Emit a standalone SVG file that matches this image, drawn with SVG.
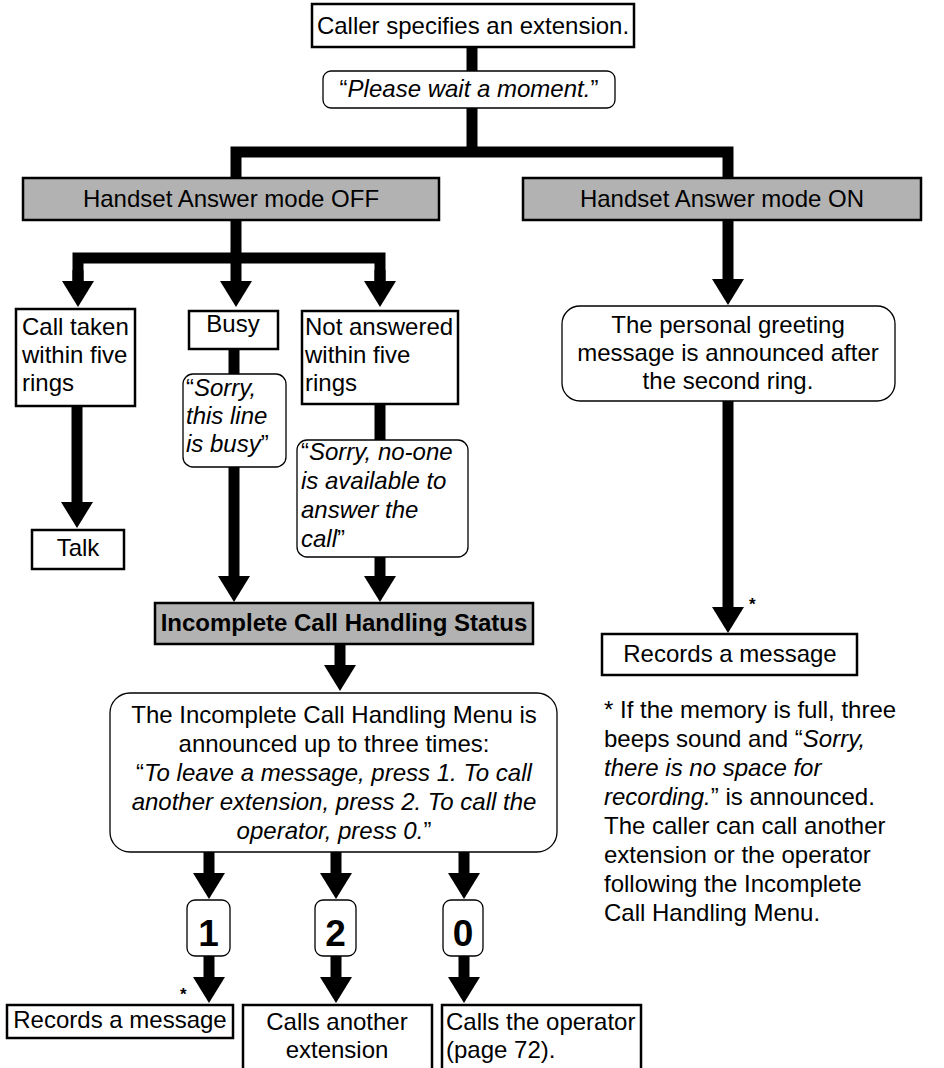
<svg xmlns="http://www.w3.org/2000/svg" width="944" height="1068" viewBox="0 0 944 1068">
<style>
text{font-family:"Liberation Sans",Arial,sans-serif;font-size:24px;fill:#000}
.c{text-anchor:middle}
.i{font-style:italic}
.b{font-weight:bold}
.box{fill:#fff;stroke:#000;stroke-width:2.5}
.gray{fill:#b2b2b2;stroke:#000;stroke-width:2.5}
.rnd{fill:#fff;stroke:#000;stroke-width:1.3}
.ln{fill:none;stroke:#000;stroke-width:11;stroke-linejoin:miter}
.ar{fill:none;stroke:#000;stroke-width:11;marker-end:url(#ah)}
.dig{font-size:37px;font-weight:bold}
.ast{font-size:17px;font-weight:bold}
</style>
<defs>
<marker id="ah" markerUnits="userSpaceOnUse" viewBox="0 0 27 32" markerWidth="27" markerHeight="32" refX="1" refY="16" orient="auto" overflow="visible">
<path d="M0,0 L26,16 L0,32 Z" fill="#000"/>
</marker>
</defs>
<g id="connectors">
<path class="ln" d="M472,47 V71"/>
<path class="ln" d="M472,108 V152"/>
<path class="ln" d="M236,178 V152 H728 V178"/>
<path class="ln" d="M78,283 V258 H380 V283"/>
<path class="ar" d="M236,220 V282"/>
<path class="ar" d="M78,270 V282"/>
<path class="ar" d="M380,270 V282"/>
<path class="ln" d="M234,349 V374"/>
<path class="ar" d="M234,467 V577"/>
<path class="ln" d="M380,404 V440"/>
<path class="ar" d="M380,557 V577"/>
<path class="ar" d="M77,406 V503"/>
<path class="ar" d="M340,644 V666"/>
<path class="ar" d="M209,852 V874"/>
<path class="ar" d="M336,852 V874"/>
<path class="ar" d="M464,852 V874"/>
<path class="ar" d="M209,956 V978"/>
<path class="ar" d="M336,956 V978"/>
<path class="ar" d="M464,956 V978"/>
<path class="ar" d="M728,220 V280"/>
<path class="ar" d="M728,401 V608"/>
</g>
<g id="n-caller"><rect class="box" x="312" y="4" width="322" height="43"/><text class="c" x="473" y="34">Caller specifies an extension.</text></g>
<g id="n-wait"><rect class="rnd" x="323" y="71" width="292" height="37" rx="8"/><text class="c" x="469" y="97">“<tspan class="i">Please wait a moment.</tspan>”</text></g>
<g id="n-off"><rect class="gray" x="23" y="178" width="416" height="42"/><text class="c" x="231" y="207">Handset Answer mode OFF</text></g>
<g id="n-on"><rect class="gray" x="523" y="178" width="398" height="42"/><text class="c" x="722" y="207">Handset Answer mode ON</text></g>
<g id="n-taken"><rect class="box" x="16" y="309" width="119" height="97"/><text x="22" y="335">Call taken</text><text x="22" y="363">within five</text><text x="22" y="391">rings</text></g>
<g id="n-busy"><rect class="box" x="189" y="311" width="89" height="38"/><text class="c" x="233" y="332">Busy</text></g>
<g id="n-notans"><rect class="box" x="302" y="311" width="156" height="93"/><text x="305" y="335">Not answered</text><text x="305" y="363">within five</text><text x="305" y="391">rings</text></g>
<g id="n-sorrybusy"><rect class="rnd" x="183" y="374" width="103" height="93" rx="10"/><text x="186" y="396">“<tspan class="i">Sorry,</tspan></text><text class="i" x="186" y="424">this line</text><text x="186" y="452"><tspan class="i">is busy</tspan>”</text></g>
<g id="n-sorryno"><rect class="rnd" x="297" y="440" width="171" height="117" rx="10"/><text x="301" y="460">“<tspan class="i">Sorry, no-one</tspan></text><text class="i" x="301" y="489">is available to</text><text class="i" x="301" y="518">answer the</text><text x="301" y="547"><tspan class="i">call</tspan>”</text></g>
<g id="n-talk"><rect class="box" x="32" y="530" width="92" height="39"/><text class="c" x="78" y="556">Talk</text></g>
<g id="n-status"><rect class="gray" x="155" y="603" width="378" height="41"/><text class="c b" x="344" y="631">Incomplete Call Handling Status</text></g>
<g id="n-menu"><rect class="rnd" x="110" y="693" width="447" height="159" rx="20"/>
<text class="c" x="334" y="723">The Incomplete Call Handling Menu is</text>
<text class="c" x="334" y="752">announced up to three times:</text>
<text class="c" x="334" y="781">“<tspan class="i">To leave a message, press 1. To call</tspan></text>
<text class="c i" x="334" y="810">another extension, press 2. To call the</text>
<text class="c" x="334" y="839"><tspan class="i">operator, press 0.</tspan>”</text></g>
<g id="n-d1"><rect class="rnd" x="187" y="900" width="43" height="56" rx="8"/><text class="c dig" x="208.5" y="946">1</text></g>
<g id="n-d2"><rect class="rnd" x="315" y="900" width="41" height="56" rx="8"/><text class="c dig" x="335.5" y="946">2</text></g>
<g id="n-d0"><rect class="rnd" x="443" y="900" width="40" height="56" rx="8"/><text class="c dig" x="463" y="946">0</text></g>
<g id="n-rec1"><rect class="box" x="7" y="1005" width="226" height="33"/><text class="c" x="120" y="1028">Records a message</text><text class="ast" x="180" y="1000">*</text></g>
<g id="n-callext"><rect class="box" x="243" y="1005" width="189" height="70"/><text class="c" x="337" y="1030">Calls another</text><text class="c" x="337" y="1058">extension</text></g>
<g id="n-callop"><rect class="box" x="442" y="1005" width="199" height="70"/><text x="446" y="1030">Calls the operator</text><text x="446" y="1058">(page 72).</text></g>
<g id="n-greet"><rect class="rnd" x="562" y="306" width="333" height="95" rx="18"/><text class="c" x="728" y="333">The personal greeting</text><text class="c" x="728" y="361">message is announced after</text><text class="c" x="728" y="389">the second ring.</text></g>
<g id="n-rec2"><rect class="box" x="602" y="634" width="255" height="41"/><text class="c" x="730" y="662">Records a message</text><text class="ast" x="749" y="610">*</text></g>
<g id="n-note">
<text x="604" y="718">* If the memory is full, three</text>
<text x="604" y="747">beeps sound and “<tspan class="i">Sorry,</tspan></text>
<text class="i" x="604" y="776">there is no space for</text>
<text x="604" y="805"><tspan class="i">recording.</tspan>” is announced.</text>
<text x="604" y="834">The caller can call another</text>
<text x="604" y="863">extension or the operator</text>
<text x="604" y="892">following the Incomplete</text>
<text x="604" y="921">Call Handling Menu.</text>
</g>
</svg>
